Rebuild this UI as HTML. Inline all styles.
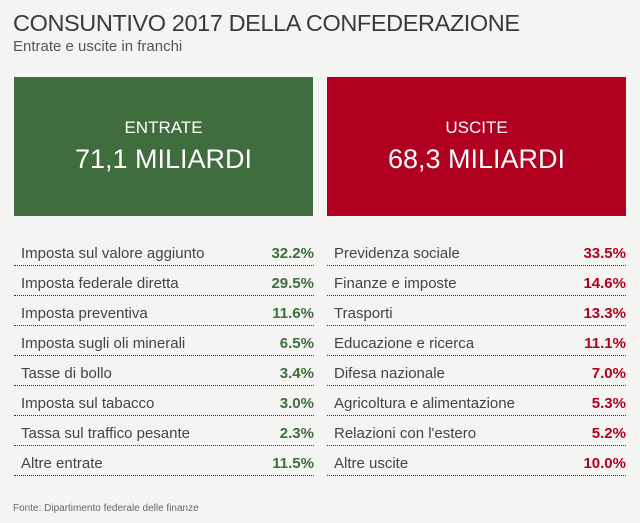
<!DOCTYPE html>
<html><head><meta charset="utf-8"><style>
body{margin:0;width:640px;height:523px;background:#f4f4f2;font-family:"Liberation Sans",sans-serif;color:#444;position:relative;overflow:hidden}
.t{position:absolute;left:13px;top:10px;font-size:23.5px;color:#3a3a3a;letter-spacing:-0.4px}
.s{position:absolute;left:13px;top:38px;font-size:15px;color:#555}
.box{position:absolute;top:77px;width:299px;height:139px;color:#fff;text-align:center}
.box .a{margin-top:41px;font-size:17px}
.box .b{font-size:27px;margin-top:6px}
.row{position:absolute;height:30px;border-bottom:1px dotted #333;font-size:15px;line-height:30px;box-sizing:border-box}
.row .l{position:absolute;left:7px;top:3px}
.row span{position:absolute;right:0;top:3px;font-weight:bold}
.src{position:absolute;left:13px;top:503px;font-size:10px;color:#666}
</style></head><body>
<div class="t">CONSUNTIVO 2017 DELLA CONFEDERAZIONE</div>
<div class="s">Entrate e uscite in franchi</div>
<div class="box" style="left:14px;background:#406d3e"><div class="a">ENTRATE</div><div class="b">71,1 MILIARDI</div></div>
<div class="box" style="left:327px;background:#b20020"><div class="a">USCITE</div><div class="b">68,3 MILIARDI</div></div>
<div id="rows"></div>
<div class="src">Fonte: Dipartimento federale delle finanze</div>
<script>
var L=[["Imposta sul valore aggiunto","32.2%"],["Imposta federale diretta","29.5%"],["Imposta preventiva","11.6%"],["Imposta sugli oli minerali","6.5%"],["Tasse di bollo","3.4%"],["Imposta sul tabacco","3.0%"],["Tassa sul traffico pesante","2.3%"],["Altre entrate","11.5%"]];
var R=[["Previdenza sociale","33.5%"],["Finanze e imposte","14.6%"],["Trasporti","13.3%"],["Educazione e ricerca","11.1%"],["Difesa nazionale","7.0%"],["Agricoltura e alimentazione","5.3%"],["Relazioni con l'estero","5.2%"],["Altre uscite","10.0%"]];
var h="";
for(var i=0;i<8;i++){var y=236+i*30;
h+='<div class="row" style="left:14px;width:300px;top:'+y+'px"><div class="l">'+L[i][0]+'</div><span style="color:#3f6d3d">'+L[i][1]+'</span></div>';
h+='<div class="row" style="left:327px;width:299px;top:'+y+'px"><div class="l">'+R[i][0]+'</div><span style="color:#b20020">'+R[i][1]+'</span></div>';}
document.getElementById("rows").innerHTML=h;
</script>
</body></html>
